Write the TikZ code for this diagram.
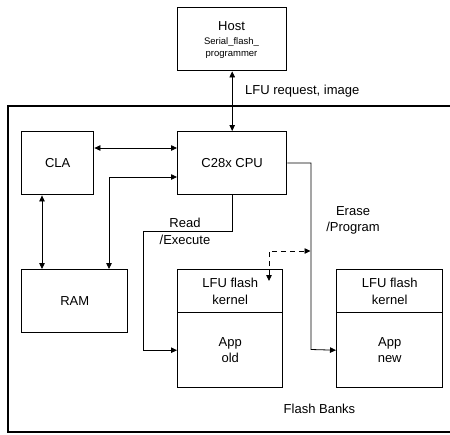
\documentclass[tikz,border=0pt]{standalone}
\usepackage{fontspec}
\setmainfont{Liberation Sans}
\usetikzlibrary{arrows.meta}
\begin{document}
\begin{tikzpicture}[x=1pt,y=-1pt,
  box/.style={draw,line width=1.4pt,anchor=north west,inner sep=0pt,align=center,
    font=\fontsize{13}{16.5}\selectfont},
  conn/.style={line width=0.8pt,-{Triangle[length=6pt,width=5.5pt]}},
  bconn/.style={line width=0.8pt,{Triangle[length=6pt,width=5.5pt]}-{Triangle[length=6pt,width=5.5pt]}},
  lbl/.style={font=\fontsize{13}{16.5}\selectfont,inner sep=0pt,align=center}]
\useasboundingbox (0,0) rectangle (450,434);
% frame
\draw[line width=1.4pt] (450,106) -- (8,106) -- (8,432) -- (450,432);
% boxes
\node[box,minimum width=109pt,minimum height=63pt] (host) at (177,7) {};
\node[lbl] (hostt) at (231.5,26) {Host};
\node[lbl,font=\fontsize{9.5}{12}\selectfont] (hosts) at (231.5,48) {Serial\_flash\_\\programmer};
\node[box,minimum width=72pt,minimum height=63pt] (cla) at (21,131) {CLA};
\node[box,minimum width=109pt,minimum height=63pt] (cpu) at (177,131) {C28x CPU};
\node[box,minimum width=106pt,minimum height=63pt] (ram) at (21,269) {RAM};
\node[box,minimum width=105pt,minimum height=43pt] (k1) at (177,269) {LFU flash\\kernel};
\node[box,minimum width=105pt,minimum height=75pt] (a1) at (177,312) {App\\old};
\node[box,minimum width=106pt,minimum height=43pt] (k2) at (336,269) {LFU flash\\kernel};
\node[box,minimum width=106pt,minimum height=75pt] (a2) at (336,312) {App\\new};
% labels
\node[lbl,anchor=west] (lreq) at (245,91) {LFU request, image};
\node[lbl] (lread) at (185,231.5) {Read\\/Execute};
\node[lbl] (lerase) at (353,220.5) {Erase\\/Program};
\node[lbl] (lbanks) at (319.5,409) {Flash Banks};
% coordinates
\coordinate (rcorner) at (143,231);
\coordinate (ecorner) at (311,349.5);
\coordinate (dtip) at (269,281);
\coordinate (dcorner) at (269,251);
\coordinate (dend) at (310.5,251);
% connectors
\draw[bconn] (host.south) -- (host.south |- cpu.north);
\draw[bconn] (cla.east |- 0,148) -- (cpu.west |- 0,148);
\draw[bconn] (cla.south -| 42,0) -- (ram.north -| 42,0);
\draw[bconn] (cpu.west |- 0,177) -| (ram.north -| 109,0);
\draw[conn] (cpu.south -| host.south) |- (rcorner) |- (a1.west);
\draw[conn] (cpu.east |- 0,163) -| (ecorner) -- (a2.west);
\draw[bconn,dashed,dash pattern=on 5pt off 4pt] (dtip) -- (dcorner) -- (dend);
\end{tikzpicture}
\end{document}
